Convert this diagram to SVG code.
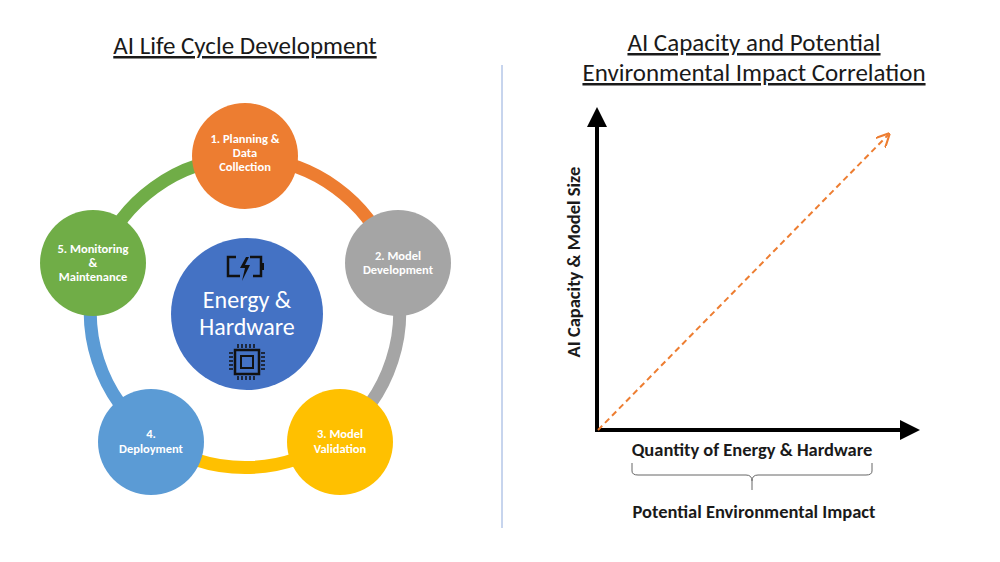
<svg xmlns="http://www.w3.org/2000/svg" width="1000" height="562" viewBox="0 0 1000 562">
<defs>
<style>
text{font-family:Calibri,Lato,"Liberation Sans",Arial,sans-serif}
.t{font-size:25px;fill:#1a1a1a;text-anchor:middle;text-decoration:underline}
.n{font-size:12.5px;font-weight:bold;fill:#fff;text-anchor:middle}
.ring{fill:none;stroke-width:13}
.lbl{font-size:18.5px;font-weight:bold;fill:#1a1a1a;text-anchor:middle}
</style>
<marker id="ah" viewBox="0 0 10 10" refX="5" refY="5" markerWidth="5" markerHeight="5" orient="auto"><path d="M0,0L10,5L0,10z" fill="#000"/></marker>
<marker id="oa" viewBox="0 0 10 10" refX="8" refY="5" markerWidth="7" markerHeight="7" orient="auto"><path d="M0,0L10,5L0,10" fill="none" stroke="#ED7D31" stroke-width="1.5"/></marker>
</defs>
<rect width="1000" height="562" fill="#fff"/>
<text class="t" x="245" y="54">AI Life Cycle Development</text>
<text class="t" x="754" y="51">AI Capacity and Potential</text>
<text class="t" x="754" y="81">Environmental Impact Correlation</text>
<line x1="502" y1="65" x2="502" y2="528" stroke="#8FAADC" stroke-width="1"/>
<g id="connectors">
<path class="ring" stroke="#ED7D31" d="M245,158 A155,155 0 0 1 392,265"/>
<path class="ring" stroke="#A5A5A5" d="M392,265 A155,155 0 0 1 336,438"/>
<path class="ring" stroke="#FFC000" d="M336,438 A155,155 0 0 1 154,438"/>
<path class="ring" stroke="#5B9BD5" d="M154,438 A155,155 0 0 1 98,265"/>
<path class="ring" stroke="#70AD47" d="M98,265 A155,155 0 0 1 245,158"/>
</g>
<g id="n1"><circle cx="245" cy="156" r="53" fill="#ED7D31"/><text class="n" x="245" y="143">1. Planning &amp;</text><text class="n" x="245" y="157">Data</text><text class="n" x="245" y="171">Collection</text></g>
<g id="n2"><circle cx="398" cy="263" r="53" fill="#A5A5A5"/><text class="n" x="398" y="260">2. Model</text><text class="n" x="398" y="274">Development</text></g>
<g id="n3"><circle cx="340" cy="442" r="53" fill="#FFC000"/><text class="n" x="340" y="438">3. Model</text><text class="n" x="340" y="453">Validation</text></g>
<g id="n4"><circle cx="151" cy="442" r="53" fill="#5B9BD5"/><text class="n" x="151" y="438">4.</text><text class="n" x="151" y="453">Deployment</text></g>
<g id="n5"><circle cx="93" cy="263" r="53" fill="#70AD47"/><text class="n" x="93" y="253">5. Monitoring</text><text class="n" x="93" y="267">&amp;</text><text class="n" x="93" y="281">Maintenance</text></g>
<g id="center">
<circle cx="247" cy="314" r="76" fill="#4472C4"/>
<text x="247" y="308" font-size="24" fill="#fff" text-anchor="middle">Energy &amp;</text>
<text x="247" y="335" font-size="24" fill="#fff" text-anchor="middle">Hardware</text>
<g fill="none" stroke="#111" stroke-width="2.5">
<path d="M236,257 H228 V276 H240 M250,257 H261 V276 H253"/>
<rect x="261" y="263" width="3" height="7" fill="#111" stroke="none"/>
<rect x="235" y="350" width="24" height="24"/>
<rect x="241" y="356" width="12" height="12" stroke-width="2"/>
<path d="M238,348v-4M242,348v-4M246,348v-4M250,348v-4M254,348v-4M238,376v4M242,376v4M246,376v4M250,376v4M254,376v4M233,353h-4M233,357h-4M233,361h-4M233,365h-4M233,369h-4M261,353h4M261,357h4M261,361h4M261,365h4M261,369h4" stroke-width="1.5"/>
</g>
<path d="M246,257 L240,268 H245 L242,281 L250,265 H245 L249,257 Z" fill="#111"/>
</g>
<g id="chart">
<line x1="597" y1="432" x2="597" y2="117" stroke="#000" stroke-width="4" marker-end="url(#ah)"/>
<line x1="595" y1="430" x2="910" y2="430" stroke="#000" stroke-width="4" marker-end="url(#ah)"/>
<line x1="598" y1="430" x2="888" y2="135" stroke="#ED7D31" stroke-width="2" stroke-dasharray="6,4" marker-end="url(#oa)"/>
<text class="lbl" transform="translate(580,262) rotate(-90)">AI Capacity &amp; Model Size</text>
<text class="lbl" x="752" y="456">Quantity of Energy &amp; Hardware</text>
<path d="M632,463 v8 q0,4 6,4 h108 q6,0 6,6 q0,-6 6,-6 h108 q6,0 6,-4 v-8" fill="none" stroke="#666" stroke-width="1"/>
<path d="M752,481 v9" stroke="#666" stroke-width="1"/>
<text class="lbl" x="754" y="518">Potential Environmental Impact</text>
</g>
</svg>
